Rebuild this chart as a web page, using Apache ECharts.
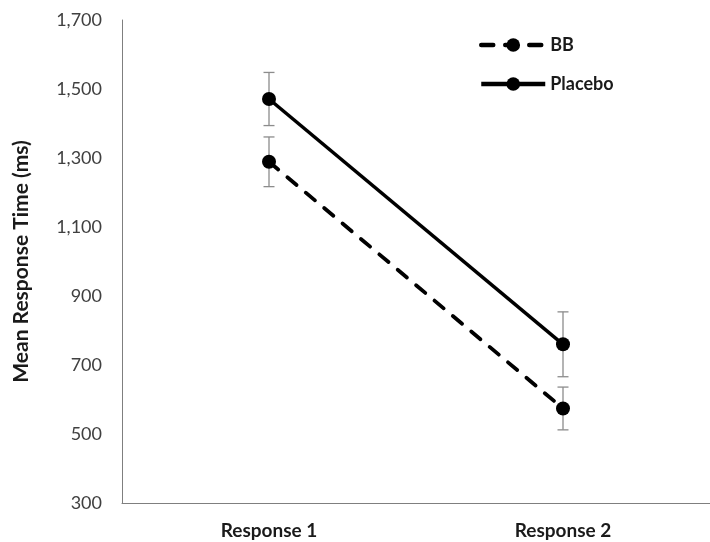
<!DOCTYPE html>
<html>
<head>
<meta charset="utf-8">
<script src="https://cdn.jsdelivr.net/npm/echarts@6/dist/echarts.min.js"></script>
<style>html,body{margin:0;padding:0;background:#fff;}#c{width:710px;height:542px;}</style>
</head>
<body>
<div id="c"></div>
<script>
var categories = ['Response 1', 'Response 2'];
var bbMeans = [1289, 574];
var bbErrors = [72, 62];
var placeboMeans = [1471, 760];
var placeboErrors = [77, 94];
var yTicks = {min: 300, max: 1700, interval: 200};

var FONT = 'Lato';
var chart = echarts.init(document.getElementById('c'));

function errData(means, errs) {
  return means.map(function (m, i) { return [i, m - errs[i], m + errs[i]]; });
}
function errSeries(name, means, errs) {
  return {
    type: 'custom', name: name + ' err', z: 1, silent: true,
    data: errData(means, errs),
    encode: {x: 0, y: [1, 2]},
    renderItem: function (params, api) {
      var lo = api.coord([api.value(0), api.value(1)]);
      var hi = api.coord([api.value(0), api.value(2)]);
      var hw = 5.5;
      var st = {stroke: '#8c8c8c', lineWidth: 1.3};
      return {type: 'group', children: [
        {type: 'line', shape: {x1: lo[0], y1: lo[1], x2: hi[0], y2: hi[1]}, style: st},
        {type: 'line', shape: {x1: lo[0]-hw, y1: lo[1], x2: lo[0]+hw, y2: lo[1]}, style: st},
        {type: 'line', shape: {x1: hi[0]-hw, y1: hi[1], x2: hi[0]+hw, y2: hi[1]}, style: st}
      ]};
    }
  };
}

chart.setOption({
  animation: false,
  backgroundColor: '#fff',
  grid: {left: 122, top: 20, width: 596, height: 483, containLabel: false},
  legend: {
    orient: 'vertical', left: 474, top: 31, itemWidth: 64, itemHeight: 17, itemGap: 21,
    lineStyle: {width: 4.5},
    textStyle: {fontFamily: FONT, fontWeight: 'bold', fontSize: 18, color: '#1a1a1a'},
    data: ['BB', 'Placebo']
  },
  xAxis: {
    type: 'category', data: categories, boundaryGap: true,
    axisLine: {lineStyle: {color: '#7f7f7f', width: 1}},
    axisTick: {show: false},
    axisLabel: {margin: 18, fontFamily: FONT, fontWeight: 'bold', fontSize: 19, color: '#1a1a1a'}
  },
  yAxis: {
    type: 'value', min: yTicks.min, max: yTicks.max, interval: yTicks.interval,
    name: 'Mean Response Time (ms)', nameLocation: 'middle', nameGap: 90,
    nameTextStyle: {fontFamily: FONT, fontWeight: 'bold', fontSize: 21, color: '#1a1a1a'},
    axisLine: {show: true, lineStyle: {color: '#7f7f7f', width: 1}},
    axisTick: {show: false},
    splitLine: {show: false},
    axisLabel: {margin: 20, fontFamily: FONT, fontSize: 18, color: '#404040',
      formatter: function (v) { return v.toLocaleString('en-US'); }}
  },
  series: [
    errSeries('BB', bbMeans, bbErrors),
    errSeries('Placebo', placeboMeans, placeboErrors),
    {
      name: 'BB', type: 'line', data: bbMeans, z: 3,
      symbol: 'circle', symbolSize: 14,
      lineStyle: {color: '#000', width: 3.8, type: [12, 12], cap: 'round'},
      itemStyle: {color: '#000'}
    },
    {
      name: 'Placebo', type: 'line', data: placeboMeans, z: 3,
      symbol: 'circle', symbolSize: 14,
      lineStyle: {color: '#000', width: 3.5},
      itemStyle: {color: '#000'}
    }
  ]
});
</script>
</body>
</html>
